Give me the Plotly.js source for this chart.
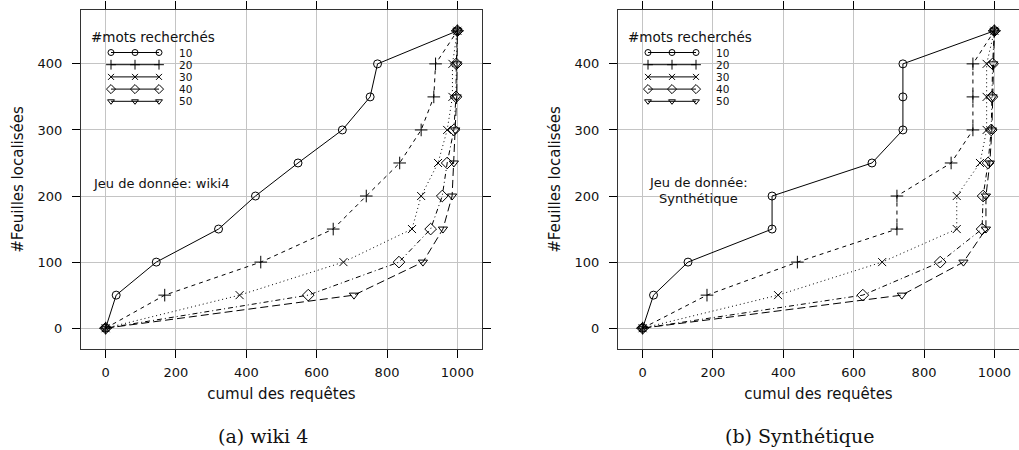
<!DOCTYPE html>
<html>
<head>
<meta charset="utf-8">
<script src="https://cdn.plot.ly/plotly-3.0.1.min.js"></script>
<style>
  html, body { margin: 0; padding: 0; background: #fff; }
  #chart { width: 1019px; height: 450px; }
</style>
</head>
<body>
<div id="chart"></div>
<script>
// ---------------- DATA ----------------
const seriesNames = ['10', '20', '30', '40', '50'];
const leavesFound = [0, 50, 100, 150, 200, 250, 300, 350, 400, 450];

// (a) wiki 4 : cumulative queries for each number of searched words
const wiki10 = [0, 30, 144, 321, 426, 547, 673, 752, 773, 1000];
const wiki20 = [0, 168, 441, 647, 741, 836, 897, 933, 938, 1000];
const wiki30 = [0, 381, 676, 871, 897, 945, 971, 986, 986, 1000];
const wiki40 = [0, 576, 834, 924, 957, 971, 990, 996, 997, 1000];
const wiki50 = [0, 706, 902, 959, 985, 990, 994, 998, 999, 1000];

// (b) Synthétique
const syn10 = [0, 31, 129, 368, 368, 652, 740, 740, 740, 1000];
const syn20 = [0, 183, 440, 723, 723, 877, 939, 939, 939, 1000];
const syn30 = [0, 385, 681, 893, 893, 959, 978, 978, 978, 1000];
const syn40 = [0, 626, 846, 965, 968, 982, 991, 993, 995, 1000];
const syn50 = [0, 737, 912, 976, 976, 987, 993, 995, 997, 1000];

const xTicks = [0, 200, 400, 600, 800, 1000];
const yTicks = [0, 100, 200, 300, 400];

// ---------------- STYLE ----------------
const symbols = ['circle-open', 'cross-thin-open', 'x-thin-open', 'diamond-open', 'triangle-down-open'];
const markerSizes = [8, 9, 8, 9, 8];
const dashes = ['solid', '4px,4px', '1px,3px', '1px,3px,5px,3px', '8px,4px'];
const SANS = 'DejaVu Sans, Liberation Sans, sans-serif';
const SERIF = 'DejaVu Serif, Liberation Serif, serif';
const INK = '#111';

const W = 1019, H = 450;
const boxTop = 10, boxBottom = 349;
const leftBox = [81, 482], rightBox = [618, 1019];

// legend geometry (pixels from top-left corner of each panel)
const LEG = { markX: [30, 54, 78], rowY0: 42.5, rowStep: 12.2, labelX: 97, titleX: 8, titleY: 27 };

function dataTraces(xs, xa, ya) {
  return xs.map((xv, i) => ({
    type: 'scatter', mode: 'lines+markers', x: xv, y: leavesFound,
    xaxis: xa, yaxis: ya, name: seriesNames[i], showlegend: false,
    line: { color: '#000', width: 1, dash: dashes[i] },
    marker: { symbol: symbols[i], size: markerSizes[i], color: '#000', line: { color: '#000', width: 1 } },
    cliponaxis: false
  }));
}

function legendTraces(xa, ya) {
  return seriesNames.map((n, i) => ({
    type: 'scatter', mode: 'lines+markers',
    x: LEG.markX, y: LEG.markX.map(() => LEG.rowY0 + i * LEG.rowStep),
    xaxis: xa, yaxis: ya, showlegend: false, hoverinfo: 'skip',
    line: { color: '#000', width: 1 },
    marker: { symbol: symbols[i], size: markerSizes[i] - 2, color: '#000', line: { color: '#000', width: 1 } },
    cliponaxis: false
  }));
}

function legendAnnots(xr, yr) {
  const a = [{
    xref: xr, yref: yr, x: LEG.titleX, y: LEG.titleY, text: '#mots recherchés',
    showarrow: false, xanchor: 'left', yanchor: 'middle', font: { family: SANS, size: 13.5, color: INK }
  }];
  seriesNames.forEach((n, i) => a.push({
    xref: xr, yref: yr, x: LEG.labelX, y: LEG.rowY0 + i * LEG.rowStep, text: n,
    showarrow: false, xanchor: 'left', yanchor: 'middle', borderpad: 0,
    font: { family: SANS, size: 10.5, color: INK }
  }));
  return a;
}

const frac = v => v / W;
const xDom = b => [frac(b[0]), frac(b[1])];
const yDom = [1 - boxBottom / H, 1 - boxTop / H];

function xAxis(dom, anchor) {
  return {
    domain: dom, anchor: anchor, range: [-70, 1070], tickvals: xTicks, ticktext: xTicks.map(String),
    ticks: 'outside', ticklen: 8, tickwidth: 1, tickcolor: '#000',
    showline: true, linecolor: '#333', linewidth: 1, mirror: 'ticks',
    showgrid: true, gridcolor: '#c4c4c4', gridwidth: 1, zeroline: false,
    tickfont: { family: SANS, size: 13, color: INK }, ticklabelstandoff: 3,
    title: { text: 'cumul des requêtes', font: { family: SANS, size: 15, color: INK }, standoff: 9 },
    fixedrange: true
  };
}
function yAxis(anchor) {
  return {
    domain: yDom, anchor: anchor, range: [-31.5, 481.5], tickvals: yTicks, ticktext: yTicks.map(String),
    ticks: 'outside', ticklen: 8, tickwidth: 1, tickcolor: '#000',
    showline: true, linecolor: '#333', linewidth: 1, mirror: 'ticks',
    showgrid: true, gridcolor: '#c4c4c4', gridwidth: 1, zeroline: false,
    tickfont: { family: SANS, size: 13, color: INK }, ticklabelstandoff: 7,
    title: { text: '#Feuilles localisées', font: { family: SANS, size: 15, color: INK }, standoff: 10 },
    fixedrange: true
  };
}
function overlayX(base, b) {
  return { overlaying: base, anchor: base === 'x' ? 'y3' : 'y4', range: [0, b[1] - b[0]], visible: false, fixedrange: true };
}
function overlayY(base, anchorX) {
  return { overlaying: base, anchor: anchorX, range: [boxBottom - boxTop, 0], visible: false, fixedrange: true };
}

const traces = [].concat(
  dataTraces([wiki10, wiki20, wiki30, wiki40, wiki50], 'x', 'y'),
  dataTraces([syn10, syn20, syn30, syn40, syn50], 'x2', 'y2'),
  legendTraces('x3', 'y3'),
  legendTraces('x4', 'y4')
);

const annotations = [].concat(
  legendAnnots('x3', 'y3'),
  legendAnnots('x4', 'y4'),
  [
    { xref: 'x3', yref: 'y3', x: 9.7, y: 173.7, text: 'Jeu de donnée: wiki4', showarrow: false,
      xanchor: 'left', yanchor: 'middle', font: { family: SANS, size: 13, color: INK } },
    { xref: 'x4', yref: 'y4', x: 80, y: 172.5, text: 'Jeu de donnée:', showarrow: false, borderpad: 0,
      xanchor: 'center', yanchor: 'middle', font: { family: SANS, size: 13, color: INK } },
    { xref: 'x4', yref: 'y4', x: 80, y: 188.5, text: 'Synthétique', showarrow: false, borderpad: 0,
      xanchor: 'center', yanchor: 'middle', font: { family: SANS, size: 13, color: INK } },
    { xref: 'paper', yref: 'paper', x: 263 / W, y: 1 - 436 / H, text: '(a) wiki 4', showarrow: false,
      xanchor: 'center', yanchor: 'middle', font: { family: SERIF, size: 19, color: INK } },
    { xref: 'paper', yref: 'paper', x: 800 / W, y: 1 - 436 / H, text: '(b) Synthétique', showarrow: false,
      xanchor: 'center', yanchor: 'middle', font: { family: SERIF, size: 19, color: INK } }
  ]
);

const layout = {
  width: W, height: H,
  margin: { l: 0, r: 0, t: 0, b: 0, pad: 0 },
  paper_bgcolor: '#fff', plot_bgcolor: '#fff',
  showlegend: false,
  xaxis: xAxis(xDom(leftBox), 'y'),
  yaxis: yAxis('x'),
  xaxis2: xAxis(xDom(rightBox), 'y2'),
  yaxis2: yAxis('x2'),
  xaxis3: overlayX('x', leftBox),
  yaxis3: overlayY('y', 'x3'),
  xaxis4: overlayX('x2', rightBox),
  yaxis4: overlayY('y2', 'x4'),
  annotations: annotations
};

Plotly.newPlot('chart', traces, layout, { staticPlot: true, displayModeBar: false });
</script>
</body>
</html>
